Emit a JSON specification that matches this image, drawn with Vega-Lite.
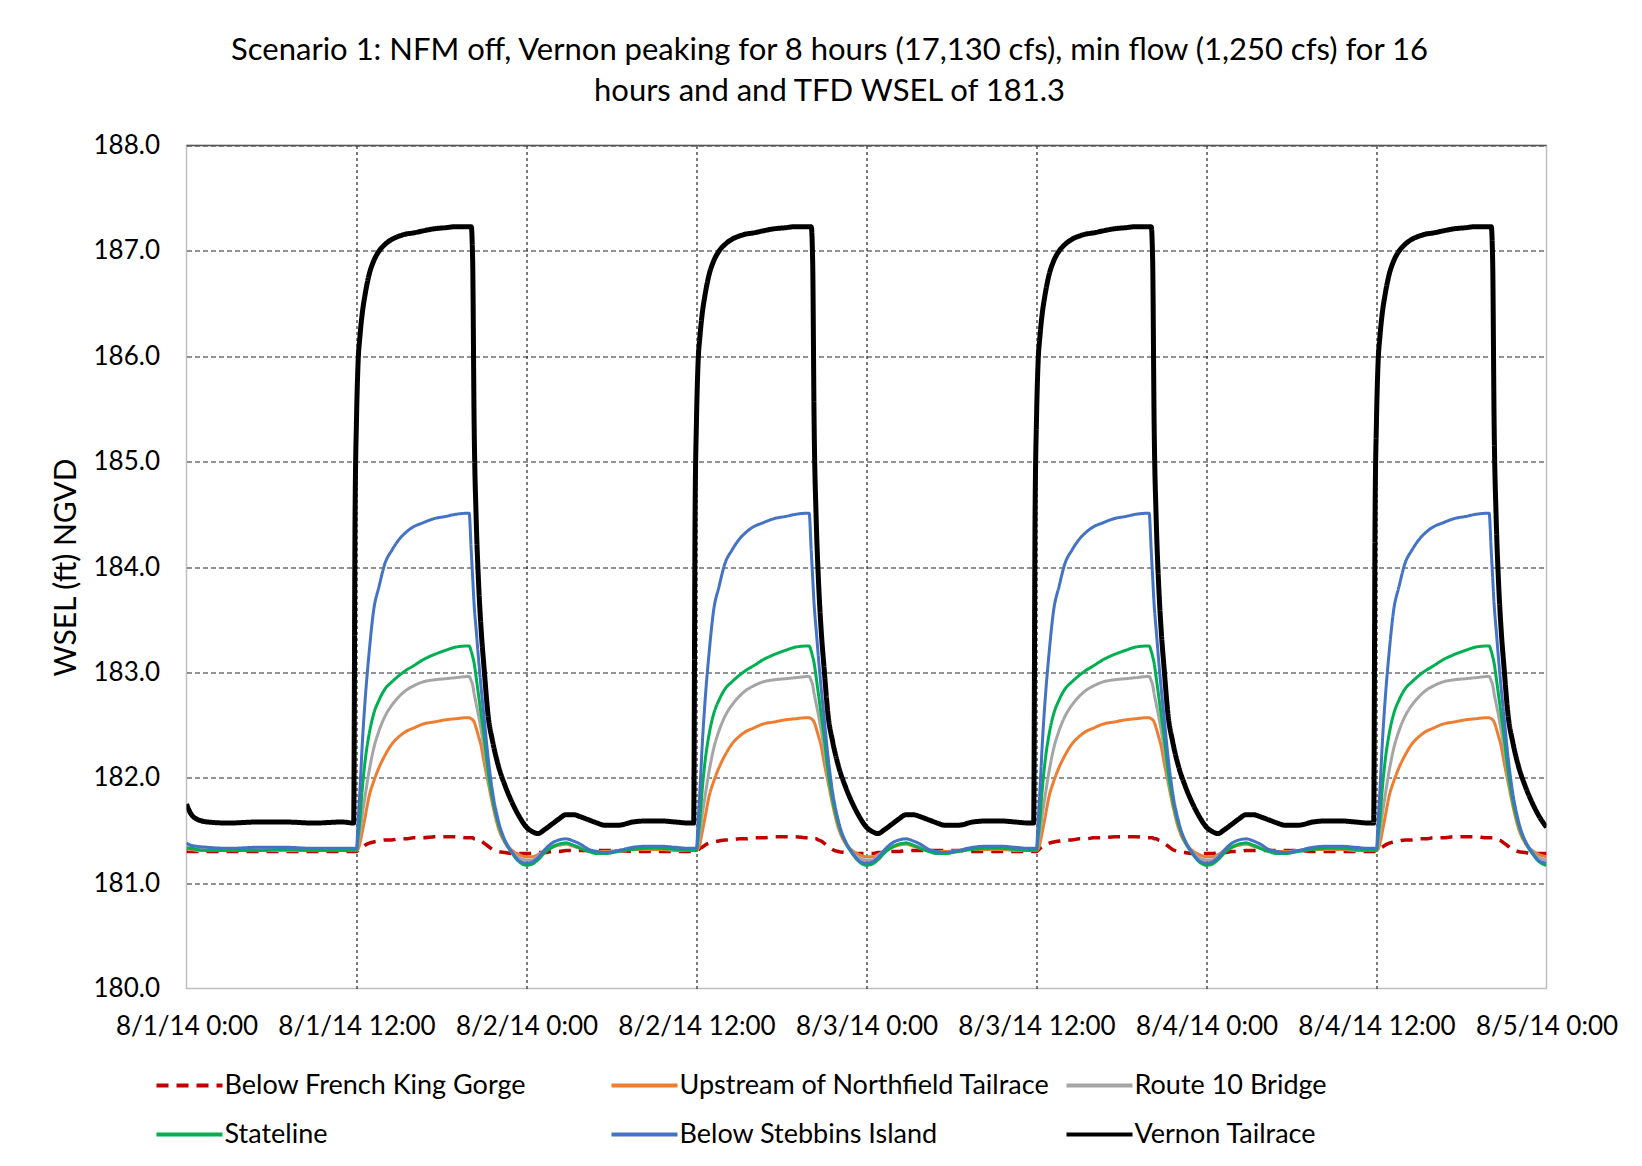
{
"$schema": "https://vega.github.io/schema/vega-lite/v6.json",
"width": 1360, "height": 843,
"autosize": {"type": "none"},
"padding": {"left": 186.5, "top": 145.5, "right": 95.5, "bottom": 177.5},
"background": "white",
"title": {"text": ["Scenario 1:  NFM off, Vernon peaking for 8 hours (17,130 cfs), min flow (1,250 cfs) for 16", "hours and and TFD WSEL of 181.3"], "anchor": "middle", "frame": "group", "dx": -37, "fontSize": 31, "font": "Lato", "fontWeight": "normal", "color": "black", "lineHeight": 41, "offset": 25},
"layer": [
{
"data": {"values": [
{"t":0,"a":181.3,"b":181.32,"c":181.35,"d":181.33,"e":181.38,"f":181.75},
{"t":0.3,"a":181.3,"b":181.32,"c":181.34,"d":181.33,"e":181.36,"f":181.66},
{"t":0.7,"a":181.3,"b":181.31,"c":181.33,"d":181.32,"e":181.35,"f":181.61},
{"t":1.5,"a":181.3,"b":181.31,"c":181.33,"d":181.31,"e":181.34,"f":181.58},
{"t":3,"a":181.3,"b":181.31,"c":181.32,"d":181.31,"e":181.33,"f":181.57},
{"t":5,"a":181.3,"b":181.31,"c":181.33,"d":181.31,"e":181.34,"f":181.58},
{"t":7,"a":181.3,"b":181.31,"c":181.33,"d":181.32,"e":181.34,"f":181.58},
{"t":9,"a":181.3,"b":181.31,"c":181.32,"d":181.31,"e":181.33,"f":181.57},
{"t":11,"a":181.3,"b":181.31,"c":181.32,"d":181.31,"e":181.33,"f":181.58},

{"t":11.8,"a":181.3,"b":181.31,"c":181.32,"d":181.31,"e":181.33,"f":181.57},
{"t":11.9,"a":181.3,"b":181.31,"c":181.32,"d":181.31,"e":181.33,"f":184.5},
{"t":12,"a":181.3,"b":181.31,"c":181.32,"d":181.31,"e":181.33,"f":185.4},
{"t":12.1,"a":181.31,"b":181.32,"c":181.36,"d":181.42,"e":181.55,"f":185.9},
{"t":12.25,"a":181.33,"b":181.38,"c":181.48,"d":181.62,"e":181.9,"f":186.2},
{"t":12.4,"a":181.34,"b":181.48,"c":181.64,"d":181.88,"e":182.3,"f":186.4},
{"t":12.6,"a":181.36,"b":181.62,"c":181.82,"d":182.15,"e":182.72,"f":186.58},
{"t":12.9,"a":181.38,"b":181.83,"c":182.07,"d":182.42,"e":183.2,"f":186.78},
{"t":13.2,"a":181.39,"b":181.96,"c":182.27,"d":182.6,"e":183.58,"f":186.9},
{"t":13.6,"a":181.4,"b":182.1,"c":182.45,"d":182.74,"e":183.82,"f":187.0},
{"t":14,"a":181.41,"b":182.21,"c":182.58,"d":182.84,"e":184.03,"f":187.06},
{"t":14.5,"a":181.41,"b":182.32,"c":182.69,"d":182.91,"e":184.16,"f":187.11},
{"t":15,"a":181.42,"b":182.39,"c":182.77,"d":182.97,"e":184.26,"f":187.14},
{"t":15.5,"a":181.42,"b":182.44,"c":182.83,"d":183.02,"e":184.33,"f":187.16},
{"t":16,"a":181.43,"b":182.47,"c":182.87,"d":183.06,"e":184.38,"f":187.17},
{"t":16.7,"a":181.43,"b":182.51,"c":182.91,"d":183.12,"e":184.42,"f":187.19},
{"t":17.5,"a":181.44,"b":182.53,"c":182.93,"d":183.17,"e":184.46,"f":187.21},
{"t":18.3,"a":181.44,"b":182.55,"c":182.94,"d":183.21,"e":184.48,"f":187.22},
{"t":19,"a":181.44,"b":182.56,"c":182.95,"d":183.24,"e":184.5,"f":187.23},
{"t":19.8,"a":181.43,"b":182.57,"c":182.96,"d":183.25,"e":184.51,"f":187.23},
{"t":19.95,"a":181.43,"b":182.57,"c":182.96,"d":183.25,"e":184.51,"f":187.23},
{"t":20.1,"a":181.43,"b":182.56,"c":182.92,"d":183.2,"e":184.15,"f":187.23},
{"t":20.2,"a":181.43,"b":182.55,"c":182.88,"d":183.15,"e":183.9,"f":186.9},
{"t":20.3,"a":181.42,"b":182.53,"c":182.8,"d":183.09,"e":183.65,"f":185.4},
{"t":20.45,"a":181.42,"b":182.47,"c":182.7,"d":182.95,"e":183.4,"f":184.45},
{"t":20.6,"a":181.41,"b":182.4,"c":182.6,"d":182.8,"e":183.15,"f":183.9},
{"t":20.8,"a":181.4,"b":182.3,"c":182.45,"d":182.6,"e":182.85,"f":183.4},
{"t":21,"a":181.38,"b":182.15,"c":182.28,"d":182.4,"e":182.58,"f":183.05},
{"t":21.3,"a":181.35,"b":181.95,"c":182.0,"d":182.05,"e":182.18,"f":182.58},
{"t":21.6,"a":181.32,"b":181.75,"c":181.8,"d":181.8,"e":181.87,"f":182.35},
{"t":22,"a":181.3,"b":181.53,"c":181.57,"d":181.57,"e":181.6,"f":182.12},
{"t":22.5,"a":181.29,"b":181.38,"c":181.4,"d":181.39,"e":181.4,"f":181.92},
{"t":23,"a":181.28,"b":181.31,"c":181.3,"d":181.28,"e":181.29,"f":181.76},
{"t":23.5,"a":181.28,"b":181.27,"c":181.24,"d":181.2,"e":181.21,"f":181.63},
{"t":24,"a":181.28,"b":181.25,"c":181.22,"d":181.17,"e":181.19,"f":181.53},
{"t":24.4,"a":181.28,"b":181.25,"c":181.22,"d":181.18,"e":181.2,"f":181.49},
{"t":24.8,"a":181.29,"b":181.27,"c":181.26,"d":181.22,"e":181.24,"f":181.47},
{"t":25.3,"a":181.29,"b":181.31,"c":181.31,"d":181.29,"e":181.32,"f":181.51},
{"t":25.8,"a":181.3,"b":181.34,"c":181.35,"d":181.34,"e":181.38,"f":181.56},
{"t":26.3,"a":181.3,"b":181.36,"c":181.37,"d":181.37,"e":181.41,"f":181.61},
{"t":26.8,"a":181.31,"b":181.37,"c":181.38,"d":181.38,"e":181.42,"f":181.65},
{"t":27.3,"a":181.31,"b":181.35,"c":181.36,"d":181.36,"e":181.4,"f":181.65},
{"t":27.8,"a":181.31,"b":181.33,"c":181.34,"d":181.33,"e":181.37,"f":181.63},
{"t":28.4,"a":181.31,"b":181.31,"c":181.31,"d":181.3,"e":181.32,"f":181.6},
{"t":29,"a":181.31,"b":181.3,"c":181.29,"d":181.28,"e":181.3,"f":181.57},
{"t":29.5,"a":181.31,"b":181.3,"c":181.29,"d":181.28,"e":181.29,"f":181.55},
{"t":30.5,"a":181.31,"b":181.31,"c":181.31,"d":181.3,"e":181.31,"f":181.55},
{"t":31.5,"a":181.3,"b":181.32,"c":181.33,"d":181.32,"e":181.34,"f":181.58},
{"t":32.5,"a":181.3,"b":181.32,"c":181.33,"d":181.33,"e":181.35,"f":181.59},
{"t":33.5,"a":181.3,"b":181.32,"c":181.33,"d":181.33,"e":181.35,"f":181.59},
{"t":34.5,"a":181.3,"b":181.31,"c":181.32,"d":181.32,"e":181.34,"f":181.58},
{"t":35.5,"a":181.3,"b":181.31,"c":181.32,"d":181.31,"e":181.33,"f":181.57},

{"t":35.8,"a":181.3,"b":181.31,"c":181.32,"d":181.31,"e":181.33,"f":181.57},
{"t":35.9,"a":181.3,"b":181.31,"c":181.32,"d":181.31,"e":181.33,"f":184.5},
{"t":36,"a":181.3,"b":181.31,"c":181.32,"d":181.31,"e":181.33,"f":185.4},
{"t":36.1,"a":181.31,"b":181.32,"c":181.36,"d":181.42,"e":181.55,"f":185.9},
{"t":36.25,"a":181.33,"b":181.38,"c":181.48,"d":181.62,"e":181.9,"f":186.2},
{"t":36.4,"a":181.34,"b":181.48,"c":181.64,"d":181.88,"e":182.3,"f":186.4},
{"t":36.6,"a":181.36,"b":181.62,"c":181.82,"d":182.15,"e":182.72,"f":186.58},
{"t":36.9,"a":181.38,"b":181.83,"c":182.07,"d":182.42,"e":183.2,"f":186.78},
{"t":37.2,"a":181.39,"b":181.96,"c":182.27,"d":182.6,"e":183.58,"f":186.9},
{"t":37.6,"a":181.4,"b":182.1,"c":182.45,"d":182.74,"e":183.82,"f":187.0},
{"t":38,"a":181.41,"b":182.21,"c":182.58,"d":182.84,"e":184.03,"f":187.06},
{"t":38.5,"a":181.41,"b":182.32,"c":182.69,"d":182.91,"e":184.16,"f":187.11},
{"t":39,"a":181.42,"b":182.39,"c":182.77,"d":182.97,"e":184.26,"f":187.14},
{"t":39.5,"a":181.42,"b":182.44,"c":182.83,"d":183.02,"e":184.33,"f":187.16},
{"t":40,"a":181.43,"b":182.47,"c":182.87,"d":183.06,"e":184.38,"f":187.17},
{"t":40.7,"a":181.43,"b":182.51,"c":182.91,"d":183.12,"e":184.42,"f":187.19},
{"t":41.5,"a":181.44,"b":182.53,"c":182.93,"d":183.17,"e":184.46,"f":187.21},
{"t":42.3,"a":181.44,"b":182.55,"c":182.94,"d":183.21,"e":184.48,"f":187.22},
{"t":43,"a":181.44,"b":182.56,"c":182.95,"d":183.24,"e":184.5,"f":187.23},
{"t":43.8,"a":181.43,"b":182.57,"c":182.96,"d":183.25,"e":184.51,"f":187.23},
{"t":43.95,"a":181.43,"b":182.57,"c":182.96,"d":183.25,"e":184.51,"f":187.23},
{"t":44.1,"a":181.43,"b":182.56,"c":182.92,"d":183.2,"e":184.15,"f":187.23},
{"t":44.2,"a":181.43,"b":182.55,"c":182.88,"d":183.15,"e":183.9,"f":186.9},
{"t":44.3,"a":181.42,"b":182.53,"c":182.8,"d":183.09,"e":183.65,"f":185.4},
{"t":44.45,"a":181.42,"b":182.47,"c":182.7,"d":182.95,"e":183.4,"f":184.45},
{"t":44.6,"a":181.41,"b":182.4,"c":182.6,"d":182.8,"e":183.15,"f":183.9},
{"t":44.8,"a":181.4,"b":182.3,"c":182.45,"d":182.6,"e":182.85,"f":183.4},
{"t":45,"a":181.38,"b":182.15,"c":182.28,"d":182.4,"e":182.58,"f":183.05},
{"t":45.3,"a":181.35,"b":181.95,"c":182.0,"d":182.05,"e":182.18,"f":182.58},
{"t":45.6,"a":181.32,"b":181.75,"c":181.8,"d":181.8,"e":181.87,"f":182.35},
{"t":46,"a":181.3,"b":181.53,"c":181.57,"d":181.57,"e":181.6,"f":182.12},
{"t":46.5,"a":181.29,"b":181.38,"c":181.4,"d":181.39,"e":181.4,"f":181.92},
{"t":47,"a":181.28,"b":181.31,"c":181.3,"d":181.28,"e":181.29,"f":181.76},
{"t":47.5,"a":181.28,"b":181.27,"c":181.24,"d":181.2,"e":181.21,"f":181.63},
{"t":48,"a":181.28,"b":181.25,"c":181.22,"d":181.17,"e":181.19,"f":181.53},
{"t":48.4,"a":181.28,"b":181.25,"c":181.22,"d":181.18,"e":181.2,"f":181.49},
{"t":48.8,"a":181.29,"b":181.27,"c":181.26,"d":181.22,"e":181.24,"f":181.47},
{"t":49.3,"a":181.29,"b":181.31,"c":181.31,"d":181.29,"e":181.32,"f":181.51},
{"t":49.8,"a":181.3,"b":181.34,"c":181.35,"d":181.34,"e":181.38,"f":181.56},
{"t":50.3,"a":181.3,"b":181.36,"c":181.37,"d":181.37,"e":181.41,"f":181.61},
{"t":50.8,"a":181.31,"b":181.37,"c":181.38,"d":181.38,"e":181.42,"f":181.65},
{"t":51.3,"a":181.31,"b":181.35,"c":181.36,"d":181.36,"e":181.4,"f":181.65},
{"t":51.8,"a":181.31,"b":181.33,"c":181.34,"d":181.33,"e":181.37,"f":181.63},
{"t":52.4,"a":181.31,"b":181.31,"c":181.31,"d":181.3,"e":181.32,"f":181.6},
{"t":53,"a":181.31,"b":181.3,"c":181.29,"d":181.28,"e":181.3,"f":181.57},
{"t":53.5,"a":181.31,"b":181.3,"c":181.29,"d":181.28,"e":181.29,"f":181.55},
{"t":54.5,"a":181.31,"b":181.31,"c":181.31,"d":181.3,"e":181.31,"f":181.55},
{"t":55.5,"a":181.3,"b":181.32,"c":181.33,"d":181.32,"e":181.34,"f":181.58},
{"t":56.5,"a":181.3,"b":181.32,"c":181.33,"d":181.33,"e":181.35,"f":181.59},
{"t":57.5,"a":181.3,"b":181.32,"c":181.33,"d":181.33,"e":181.35,"f":181.59},
{"t":58.5,"a":181.3,"b":181.31,"c":181.32,"d":181.32,"e":181.34,"f":181.58},
{"t":59.5,"a":181.3,"b":181.31,"c":181.32,"d":181.31,"e":181.33,"f":181.57},

{"t":59.8,"a":181.3,"b":181.31,"c":181.32,"d":181.31,"e":181.33,"f":181.57},
{"t":59.9,"a":181.3,"b":181.31,"c":181.32,"d":181.31,"e":181.33,"f":184.5},
{"t":60,"a":181.3,"b":181.31,"c":181.32,"d":181.31,"e":181.33,"f":185.4},
{"t":60.1,"a":181.31,"b":181.32,"c":181.36,"d":181.42,"e":181.55,"f":185.9},
{"t":60.25,"a":181.33,"b":181.38,"c":181.48,"d":181.62,"e":181.9,"f":186.2},
{"t":60.4,"a":181.34,"b":181.48,"c":181.64,"d":181.88,"e":182.3,"f":186.4},
{"t":60.6,"a":181.36,"b":181.62,"c":181.82,"d":182.15,"e":182.72,"f":186.58},
{"t":60.9,"a":181.38,"b":181.83,"c":182.07,"d":182.42,"e":183.2,"f":186.78},
{"t":61.2,"a":181.39,"b":181.96,"c":182.27,"d":182.6,"e":183.58,"f":186.9},
{"t":61.6,"a":181.4,"b":182.1,"c":182.45,"d":182.74,"e":183.82,"f":187.0},
{"t":62,"a":181.41,"b":182.21,"c":182.58,"d":182.84,"e":184.03,"f":187.06},
{"t":62.5,"a":181.41,"b":182.32,"c":182.69,"d":182.91,"e":184.16,"f":187.11},
{"t":63,"a":181.42,"b":182.39,"c":182.77,"d":182.97,"e":184.26,"f":187.14},
{"t":63.5,"a":181.42,"b":182.44,"c":182.83,"d":183.02,"e":184.33,"f":187.16},
{"t":64,"a":181.43,"b":182.47,"c":182.87,"d":183.06,"e":184.38,"f":187.17},
{"t":64.7,"a":181.43,"b":182.51,"c":182.91,"d":183.12,"e":184.42,"f":187.19},
{"t":65.5,"a":181.44,"b":182.53,"c":182.93,"d":183.17,"e":184.46,"f":187.21},
{"t":66.3,"a":181.44,"b":182.55,"c":182.94,"d":183.21,"e":184.48,"f":187.22},
{"t":67,"a":181.44,"b":182.56,"c":182.95,"d":183.24,"e":184.5,"f":187.23},
{"t":67.8,"a":181.43,"b":182.57,"c":182.96,"d":183.25,"e":184.51,"f":187.23},
{"t":67.95,"a":181.43,"b":182.57,"c":182.96,"d":183.25,"e":184.51,"f":187.23},
{"t":68.1,"a":181.43,"b":182.56,"c":182.92,"d":183.2,"e":184.15,"f":187.23},
{"t":68.2,"a":181.43,"b":182.55,"c":182.88,"d":183.15,"e":183.9,"f":186.9},
{"t":68.3,"a":181.42,"b":182.53,"c":182.8,"d":183.09,"e":183.65,"f":185.4},
{"t":68.45,"a":181.42,"b":182.47,"c":182.7,"d":182.95,"e":183.4,"f":184.45},
{"t":68.6,"a":181.41,"b":182.4,"c":182.6,"d":182.8,"e":183.15,"f":183.9},
{"t":68.8,"a":181.4,"b":182.3,"c":182.45,"d":182.6,"e":182.85,"f":183.4},
{"t":69,"a":181.38,"b":182.15,"c":182.28,"d":182.4,"e":182.58,"f":183.05},
{"t":69.3,"a":181.35,"b":181.95,"c":182.0,"d":182.05,"e":182.18,"f":182.58},
{"t":69.6,"a":181.32,"b":181.75,"c":181.8,"d":181.8,"e":181.87,"f":182.35},
{"t":70,"a":181.3,"b":181.53,"c":181.57,"d":181.57,"e":181.6,"f":182.12},
{"t":70.5,"a":181.29,"b":181.38,"c":181.4,"d":181.39,"e":181.4,"f":181.92},
{"t":71,"a":181.28,"b":181.31,"c":181.3,"d":181.28,"e":181.29,"f":181.76},
{"t":71.5,"a":181.28,"b":181.27,"c":181.24,"d":181.2,"e":181.21,"f":181.63},
{"t":72,"a":181.28,"b":181.25,"c":181.22,"d":181.17,"e":181.19,"f":181.53},
{"t":72.4,"a":181.28,"b":181.25,"c":181.22,"d":181.18,"e":181.2,"f":181.49},
{"t":72.8,"a":181.29,"b":181.27,"c":181.26,"d":181.22,"e":181.24,"f":181.47},
{"t":73.3,"a":181.29,"b":181.31,"c":181.31,"d":181.29,"e":181.32,"f":181.51},
{"t":73.8,"a":181.3,"b":181.34,"c":181.35,"d":181.34,"e":181.38,"f":181.56},
{"t":74.3,"a":181.3,"b":181.36,"c":181.37,"d":181.37,"e":181.41,"f":181.61},
{"t":74.8,"a":181.31,"b":181.37,"c":181.38,"d":181.38,"e":181.42,"f":181.65},
{"t":75.3,"a":181.31,"b":181.35,"c":181.36,"d":181.36,"e":181.4,"f":181.65},
{"t":75.8,"a":181.31,"b":181.33,"c":181.34,"d":181.33,"e":181.37,"f":181.63},
{"t":76.4,"a":181.31,"b":181.31,"c":181.31,"d":181.3,"e":181.32,"f":181.6},
{"t":77,"a":181.31,"b":181.3,"c":181.29,"d":181.28,"e":181.3,"f":181.57},
{"t":77.5,"a":181.31,"b":181.3,"c":181.29,"d":181.28,"e":181.29,"f":181.55},
{"t":78.5,"a":181.31,"b":181.31,"c":181.31,"d":181.3,"e":181.31,"f":181.55},
{"t":79.5,"a":181.3,"b":181.32,"c":181.33,"d":181.32,"e":181.34,"f":181.58},
{"t":80.5,"a":181.3,"b":181.32,"c":181.33,"d":181.33,"e":181.35,"f":181.59},
{"t":81.5,"a":181.3,"b":181.32,"c":181.33,"d":181.33,"e":181.35,"f":181.59},
{"t":82.5,"a":181.3,"b":181.31,"c":181.32,"d":181.32,"e":181.34,"f":181.58},
{"t":83.5,"a":181.3,"b":181.31,"c":181.32,"d":181.31,"e":181.33,"f":181.57},

{"t":83.8,"a":181.3,"b":181.31,"c":181.32,"d":181.31,"e":181.33,"f":181.57},
{"t":83.9,"a":181.3,"b":181.31,"c":181.32,"d":181.31,"e":181.33,"f":184.5},
{"t":84,"a":181.3,"b":181.31,"c":181.32,"d":181.31,"e":181.33,"f":185.4},
{"t":84.1,"a":181.31,"b":181.32,"c":181.36,"d":181.42,"e":181.55,"f":185.9},
{"t":84.25,"a":181.33,"b":181.38,"c":181.48,"d":181.62,"e":181.9,"f":186.2},
{"t":84.4,"a":181.34,"b":181.48,"c":181.64,"d":181.88,"e":182.3,"f":186.4},
{"t":84.6,"a":181.36,"b":181.62,"c":181.82,"d":182.15,"e":182.72,"f":186.58},
{"t":84.9,"a":181.38,"b":181.83,"c":182.07,"d":182.42,"e":183.2,"f":186.78},
{"t":85.2,"a":181.39,"b":181.96,"c":182.27,"d":182.6,"e":183.58,"f":186.9},
{"t":85.6,"a":181.4,"b":182.1,"c":182.45,"d":182.74,"e":183.82,"f":187.0},
{"t":86,"a":181.41,"b":182.21,"c":182.58,"d":182.84,"e":184.03,"f":187.06},
{"t":86.5,"a":181.41,"b":182.32,"c":182.69,"d":182.91,"e":184.16,"f":187.11},
{"t":87,"a":181.42,"b":182.39,"c":182.77,"d":182.97,"e":184.26,"f":187.14},
{"t":87.5,"a":181.42,"b":182.44,"c":182.83,"d":183.02,"e":184.33,"f":187.16},
{"t":88,"a":181.43,"b":182.47,"c":182.87,"d":183.06,"e":184.38,"f":187.17},
{"t":88.7,"a":181.43,"b":182.51,"c":182.91,"d":183.12,"e":184.42,"f":187.19},
{"t":89.5,"a":181.44,"b":182.53,"c":182.93,"d":183.17,"e":184.46,"f":187.21},
{"t":90.3,"a":181.44,"b":182.55,"c":182.94,"d":183.21,"e":184.48,"f":187.22},
{"t":91,"a":181.44,"b":182.56,"c":182.95,"d":183.24,"e":184.5,"f":187.23},
{"t":91.8,"a":181.43,"b":182.57,"c":182.96,"d":183.25,"e":184.51,"f":187.23},
{"t":91.95,"a":181.43,"b":182.57,"c":182.96,"d":183.25,"e":184.51,"f":187.23},
{"t":92.1,"a":181.43,"b":182.56,"c":182.92,"d":183.2,"e":184.15,"f":187.23},
{"t":92.2,"a":181.43,"b":182.55,"c":182.88,"d":183.15,"e":183.9,"f":186.9},
{"t":92.3,"a":181.42,"b":182.53,"c":182.8,"d":183.09,"e":183.65,"f":185.4},
{"t":92.45,"a":181.42,"b":182.47,"c":182.7,"d":182.95,"e":183.4,"f":184.45},
{"t":92.6,"a":181.41,"b":182.4,"c":182.6,"d":182.8,"e":183.15,"f":183.9},
{"t":92.8,"a":181.4,"b":182.3,"c":182.45,"d":182.6,"e":182.85,"f":183.4},
{"t":93,"a":181.38,"b":182.15,"c":182.28,"d":182.4,"e":182.58,"f":183.05},
{"t":93.3,"a":181.35,"b":181.95,"c":182.0,"d":182.05,"e":182.18,"f":182.58},
{"t":93.6,"a":181.32,"b":181.75,"c":181.8,"d":181.8,"e":181.87,"f":182.35},
{"t":94,"a":181.3,"b":181.53,"c":181.57,"d":181.57,"e":181.6,"f":182.12},
{"t":94.5,"a":181.29,"b":181.38,"c":181.4,"d":181.39,"e":181.4,"f":181.92},
{"t":95,"a":181.28,"b":181.31,"c":181.3,"d":181.28,"e":181.29,"f":181.76},
{"t":95.5,"a":181.28,"b":181.27,"c":181.24,"d":181.2,"e":181.21,"f":181.63},
{"t":96,"a":181.28,"b":181.25,"c":181.22,"d":181.17,"e":181.19,"f":181.53}
]},
"transform": [{"fold": ["a", "b", "c", "d", "e", "f"], "as": ["series", "wsel"]}],
"mark": {"type": "line", "interpolate": "monotone", "clip": true},
"encoding": {
"x": {"field": "t", "type": "quantitative", "scale": {"domain": [0, 96], "nice": false, "zero": false},
 "axis": {"values": [0, 12, 24, 36, 48, 60, 72, 84, 96], "labelExpr": "['8/1/14 0:00','8/1/14 12:00','8/2/14 0:00','8/2/14 12:00','8/3/14 0:00','8/3/14 12:00','8/4/14 0:00','8/4/14 12:00','8/5/14 0:00'][round(datum.value/12)]", "title": null, "ticks": false, "domain": false, "labelPadding": 25, "labelFontSize": 26, "labelFont": "Lato", "labelColor": "black", "labelFlush": false, "labelOverlap": false, "labelBound": false, "grid": true, "gridColor": "#262626", "gridWidth": 1.2, "gridDash": [3, 3], "gridOpacity": {"condition": {"test": "datum.value === 0 || datum.value === 96", "value": 0}, "value": 1}}},
"y": {"field": "wsel", "type": "quantitative", "scale": {"domain": [180, 188], "nice": false, "zero": false},
 "axis": {"values": [180, 181, 182, 183, 184, 185, 186, 187, 188], "format": ".1f", "title": "WSEL (ft) NGVD", "titleFont": "Lato", "titleFontSize": 30, "titleFontWeight": "normal", "titleColor": "black", "titlePadding": 12, "ticks": false, "domain": false, "labelPadding": 27, "labelFontSize": 26, "labelFont": "Lato", "labelColor": "black", "labelFlush": false, "grid": true, "gridColor": "#262626", "gridWidth": 1.2, "gridDash": [5, 3], "gridOpacity": {"condition": {"test": "datum.value === 180", "value": 0}, "value": 1}}},
"color": {"field": "series", "type": "nominal", "scale": {"domain": ["a", "b", "c", "d", "e", "f"], "range": ["#C00000", "#ED7D31", "#A5A5A5", "#00B050", "#4472C4", "#000000"]},
 "legend": {"labelExpr": "datum.label === 'a' ? 'Below French King Gorge' : datum.label === 'b' ? 'Upstream of Northfield Tailrace' : datum.label === 'c' ? 'Route 10 Bridge' : datum.label === 'd' ? 'Stateline' : datum.label === 'e' ? 'Below Stebbins Island' : 'Vernon Tailrace'"}},
"strokeDash": {"field": "series", "type": "nominal", "scale": {"domain": ["a", "b", "c", "d", "e", "f"], "range": [[12, 8], [1, 0], [1, 0], [1, 0], [1, 0], [1, 0]]}},
"strokeWidth": {"condition": [{"test": "datum.series === 'f'", "value": 5}, {"test": "datum.series === 'a'", "value": 3.5}], "value": 3}
}
},
{
"data": {"values": [{"y": 188}]},
"mark": {"type": "rule", "color": "#595959", "strokeWidth": 1.5},
"encoding": {"y": {"field": "y", "type": "quantitative"}}
}
],
"config": {
"view": {"stroke": "#bfbfbf", "strokeWidth": 1.5},
"legend": {"orient": "none", "legendX": -32, "legendY": 905, "columns": 3, "direction": "horizontal", "gridAlign": "all", "columnPadding": 8, "rowPadding": 1, "symbolType": "stroke", "symbolSize": 4356, "symbolStrokeWidth": 4, "labelFont": "Lato", "labelFontSize": 27, "labelColor": "black", "labelLimit": 600, "labelOffset": 0, "title": null}
}
}
